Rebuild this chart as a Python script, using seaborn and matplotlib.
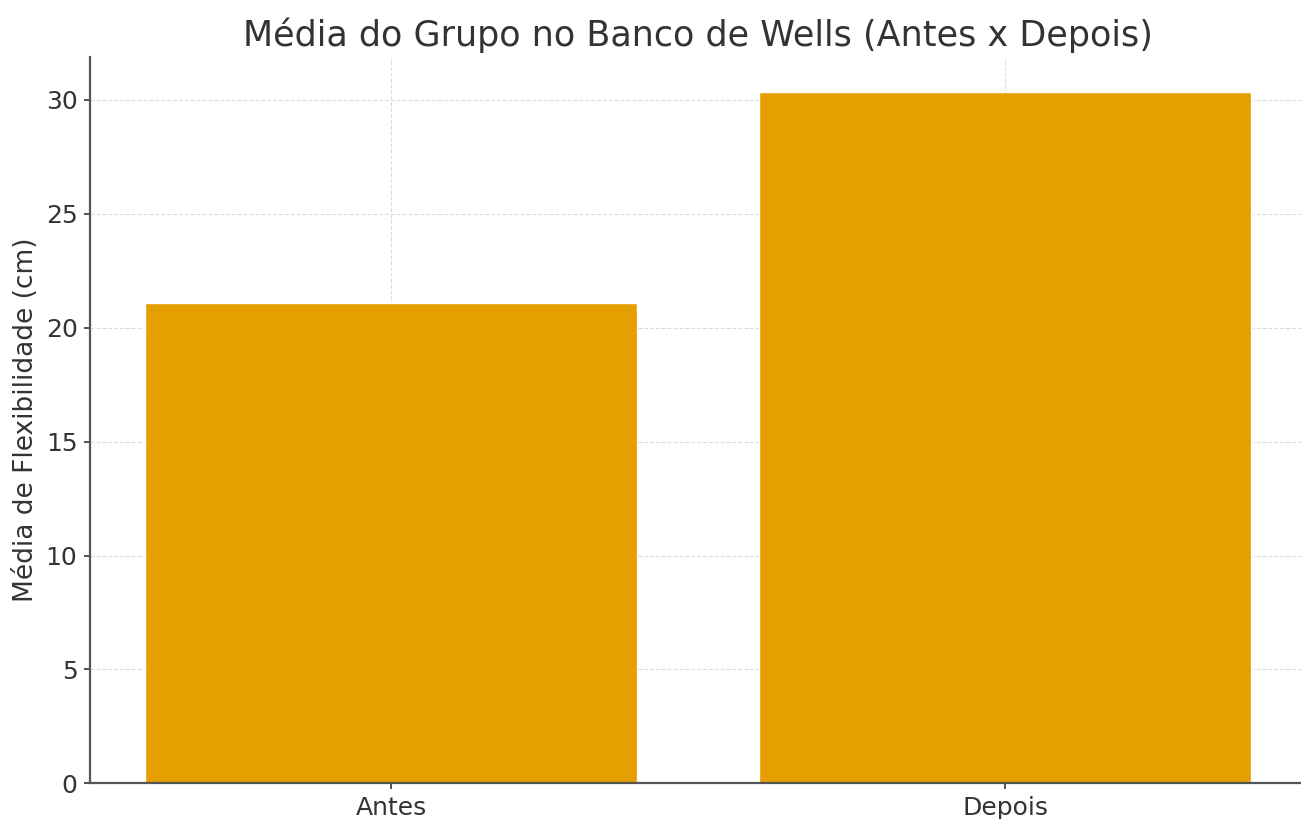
import matplotlib
matplotlib.use("Agg")
import matplotlib.pyplot as plt
import seaborn as sns
import pandas as pd

# Group mean on the Wells sit-and-reach bench, before and after
categorias = ["Antes", "Depois"]
medias = [21.08, 30.37]

df = pd.DataFrame({"Momento": categorias, "Media": medias})

sns.set_style("white")
plt.rcParams["font.family"] = ["DejaVu Sans"]

fig = plt.figure(figsize=(13.01, 8.19), dpi=100)
# the plotting area runs a few pixels past the right edge of the canvas
ax = fig.add_axes([90 / 1301, 35.7 / 819, (1306 - 90) / 1301, (783.3 - 56.7) / 819])

sns.barplot(data=df, x="Momento", y="Media", color="#E69F00", saturation=1,
            width=0.8, ax=ax, zorder=2)

ax.set_xlim(-0.49, 1.49)
ax.set_ylim(0, 31.9)
ax.set_title("Média do Grupo no Banco de Wells (Antes x Depois)",
             fontsize=25.2, color="#333333", pad=8)
ax.set_xlabel("")
ax.set_ylabel("Média de Flexibilidade (cm)", fontsize=19, color="#333333",
              labelpad=5)
ax.tick_params(axis="both", labelsize=18, colors="#333333", length=4,
               width=1.2, left=True, bottom=True, pad=5)
ax.grid(True, linestyle="--", color="#d5d5d5", linewidth=0.8, alpha=0.8, zorder=0)
ax.set_axisbelow(True)
for side in ["top", "right"]:
    ax.spines[side].set_visible(False)
for side in ["left", "bottom"]:
    ax.spines[side].set_color("#555555")
    ax.spines[side].set_linewidth(1.6)

fig.savefig("out.png", dpi=100)
